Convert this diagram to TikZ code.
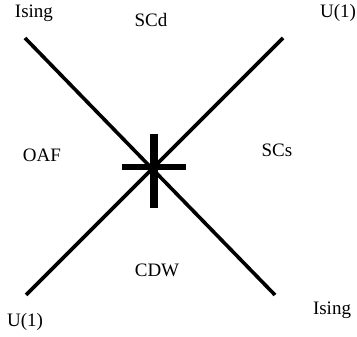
\documentclass[tikz,border=0pt]{standalone}
\usepackage{fontspec}
\setmainfont{Liberation Serif}
\begin{document}
\begin{tikzpicture}[x=1pt,y=-1pt,
  phase/.style={font=\fontsize{19}{22}\selectfont, inner sep=0pt},
  boundary/.style={line width=3.6pt},
  bar/.style={line width=6.5pt}]
\useasboundingbox (0,0) rectangle (357,337);
% end points of the two transition lines
\coordinate (nw) at (25,38);
\coordinate (se) at (275,295);
\coordinate (sw) at (26,295);
\coordinate (ne) at (283,38);
\draw[boundary] (nw) -- (se);
\draw[boundary] (sw) -- (ne);
% multicritical point marked by a cross
\coordinate (hl) at (122,167);
\coordinate (hr) at (186,167);
\coordinate (vt) at (154,134);
\coordinate (vb) at (154,208);
\draw[bar] (hl) -- (hr);
\draw[bar, line width=7.5pt] (vt) -- (vb);
% phase and universality labels
\node[phase] (isingnw) at (34,13) {Ising};
\node[phase] (scd) at (151,20) {SCd};
\node[phase] (u1ne) at (338,13) {U(1)};
\node[phase] (oaf) at (42,155) {OAF};
\node[phase] (scs) at (277,150) {SCs};
\node[phase] (cdw) at (157,270) {CDW};
\node[phase] (u1sw) at (25,322) {U(1)};
\node[phase] (isingse) at (332,310) {Ising};
\end{tikzpicture}
\end{document}
